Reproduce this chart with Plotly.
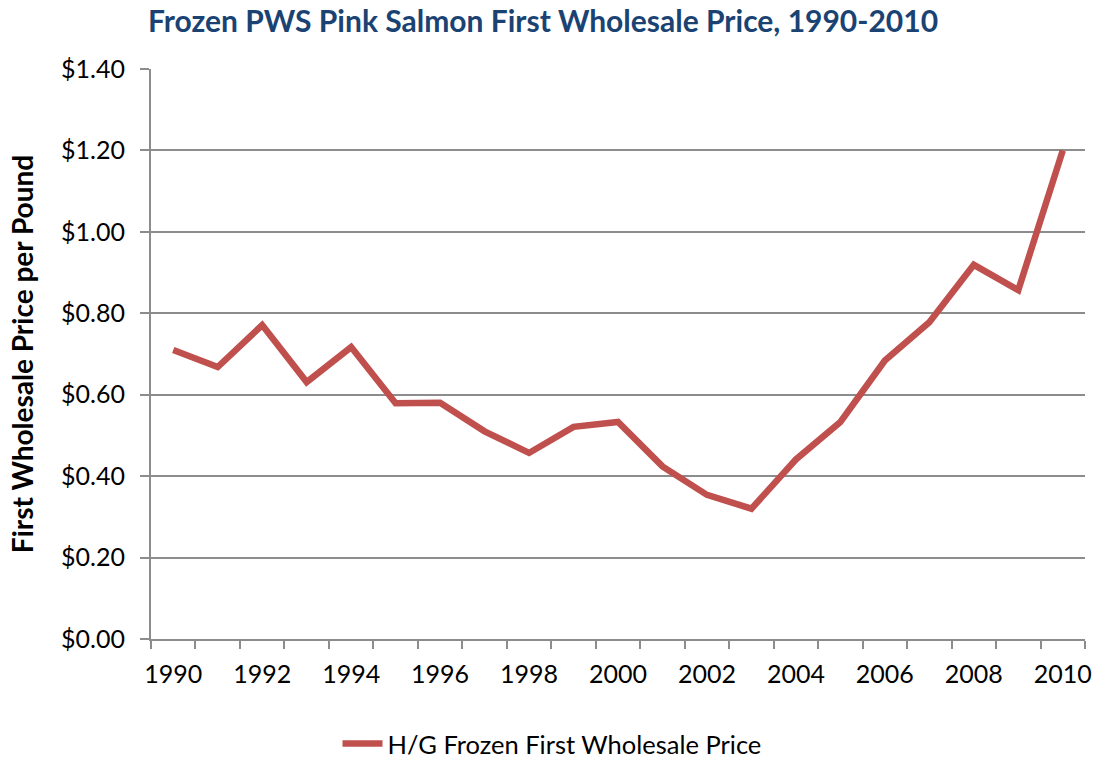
import plotly.graph_objects as go

years = list(range(1990, 2011))
prices = [0.710, 0.668, 0.771, 0.631, 0.717, 0.579, 0.580, 0.510, 0.457, 0.521,
          0.533, 0.424, 0.354, 0.320, 0.441, 0.533, 0.684, 0.778, 0.919, 0.857, 1.200]
label_years = list(range(1990, 2011, 2))
boundary_ticks = [y - 0.5 for y in range(1990, 2012)]
y_ticks = [0.0, 0.2, 0.4, 0.6, 0.8, 1.0, 1.2, 1.4]

FONT = "Lato"
GRID = "#8c8c8c"

fig = go.Figure()
fig.add_trace(go.Scatter(
    x=years, y=prices, mode="lines",
    name="H/G Frozen First Wholesale Price",
    line=dict(color="#C0504D", width=6.5),
))

fig.update_layout(
    width=1104, height=759,
    margin=dict(l=151, r=15, t=69, b=120),
    paper_bgcolor="white", plot_bgcolor="white",
    font=dict(family=FONT, size=25, color="#000000"),
    title=dict(
        text="<b>Frozen PWS Pink Salmon First Wholesale Price, 1990-2010</b>",
        x=148/1104, xref="container", xanchor="left",
        y=1-21/759, yref="container", yanchor="middle",
        font=dict(family=FONT, size=30, color="#1A4373"),
    ),
    showlegend=True,
    legend=dict(
        orientation="h", x=0.5, xref="container", xanchor="center",
        y=1-744/759, yref="container", yanchor="middle",
        font=dict(family=FONT, size=25.5), itemwidth=40,
        bgcolor="rgba(0,0,0,0)",
    ),
    xaxis=dict(
        range=[1989.5, 2010.5], tickvals=label_years,
        ticktext=[str(y) for y in label_years],
        ticks="", showgrid=False, zeroline=False,
        showline=True, linecolor=GRID, linewidth=2,
        ticklabelstandoff=12,
        minor=dict(tickvals=boundary_ticks, ticks="outside", ticklen=8,
                   tickcolor=GRID, tickwidth=2, showgrid=False),
    ),
    yaxis=dict(
        range=[0, 1.4], tickvals=y_ticks, tickformat="$.2f",
        ticks="outside", ticklen=9, tickcolor=GRID, tickwidth=2,
        showgrid=True, gridcolor=GRID, gridwidth=2, zeroline=False,
        showline=True, linecolor=GRID, linewidth=2,
        ticklabelstandoff=10,
        title=dict(text="<b>First Wholesale Price per Pound</b>",
                   font=dict(family=FONT, size=28), standoff=19),
    ),
)

fig.write_html("out.html", config={"displayModeBar": False},
               post_script="document.body.style.margin='0';")
